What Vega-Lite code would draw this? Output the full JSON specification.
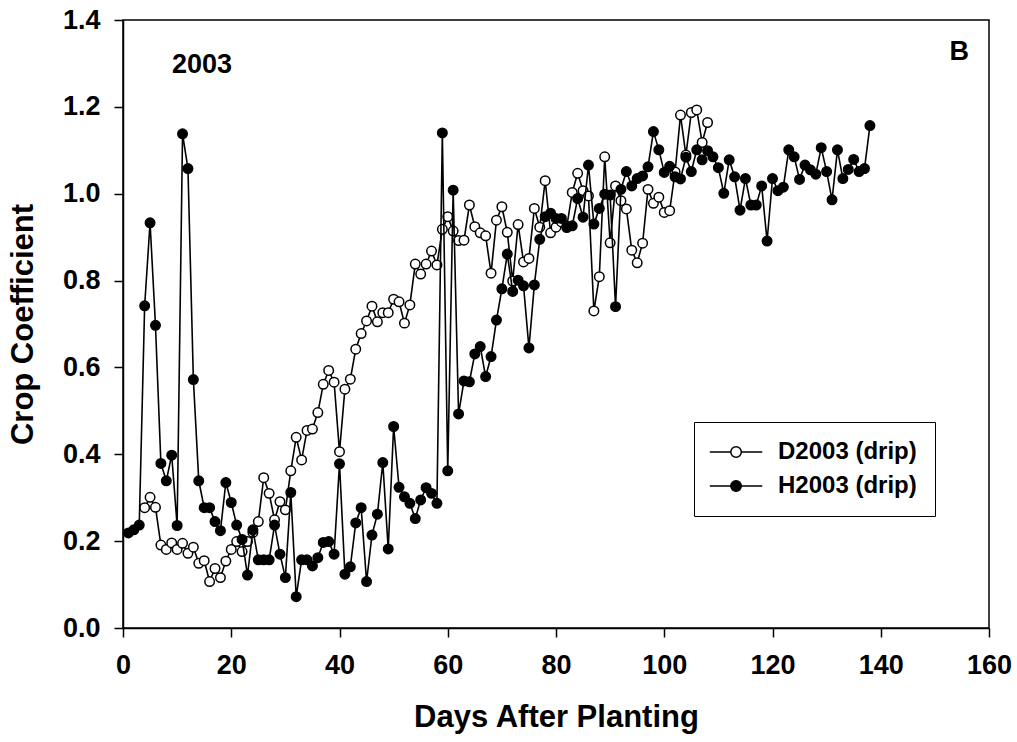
{
  "$schema": "https://vega.github.io/schema/vega-lite/v6.json",
  "width": 866,
  "height": 608,
  "autosize": {"type": "none"},
  "padding": {"left": 123, "top": 20, "right": 28, "bottom": 114},
  "background": "white",
  "config": {
    "view": {"stroke": "black", "strokeWidth": 1.5},
    "font": "Liberation Sans",
    "axis": {
      "grid": false,
      "domainColor": "black",
      "domainWidth": 1.5,
      "tickColor": "black",
      "tickWidth": 1.5,
      "tickSize": 9,
      "labelFont": "Liberation Sans",
      "labelFontSize": 27,
      "labelFontWeight": "bold",
      "labelColor": "black",
      "titleFont": "Liberation Sans",
      "titleFontWeight": "bold",
      "titleColor": "black"
    }
  },
  "datasets": {
    "kc": [
      {"day": 4, "kc": 0.277, "series": "D2003 (drip)"},
      {"day": 5, "kc": 0.301, "series": "D2003 (drip)"},
      {"day": 6, "kc": 0.278, "series": "D2003 (drip)"},
      {"day": 7, "kc": 0.191, "series": "D2003 (drip)"},
      {"day": 8, "kc": 0.181, "series": "D2003 (drip)"},
      {"day": 9, "kc": 0.196, "series": "D2003 (drip)"},
      {"day": 10, "kc": 0.181, "series": "D2003 (drip)"},
      {"day": 11, "kc": 0.195, "series": "D2003 (drip)"},
      {"day": 12, "kc": 0.172, "series": "D2003 (drip)"},
      {"day": 13, "kc": 0.186, "series": "D2003 (drip)"},
      {"day": 14, "kc": 0.149, "series": "D2003 (drip)"},
      {"day": 15, "kc": 0.155, "series": "D2003 (drip)"},
      {"day": 16, "kc": 0.107, "series": "D2003 (drip)"},
      {"day": 17, "kc": 0.137, "series": "D2003 (drip)"},
      {"day": 18, "kc": 0.116, "series": "D2003 (drip)"},
      {"day": 19, "kc": 0.154, "series": "D2003 (drip)"},
      {"day": 20, "kc": 0.181, "series": "D2003 (drip)"},
      {"day": 21, "kc": 0.199, "series": "D2003 (drip)"},
      {"day": 22, "kc": 0.176, "series": "D2003 (drip)"},
      {"day": 23, "kc": 0.199, "series": "D2003 (drip)"},
      {"day": 24, "kc": 0.22, "series": "D2003 (drip)"},
      {"day": 25, "kc": 0.245, "series": "D2003 (drip)"},
      {"day": 26, "kc": 0.346, "series": "D2003 (drip)"},
      {"day": 27, "kc": 0.31, "series": "D2003 (drip)"},
      {"day": 28, "kc": 0.249, "series": "D2003 (drip)"},
      {"day": 29, "kc": 0.291, "series": "D2003 (drip)"},
      {"day": 30, "kc": 0.272, "series": "D2003 (drip)"},
      {"day": 31, "kc": 0.362, "series": "D2003 (drip)"},
      {"day": 32, "kc": 0.439, "series": "D2003 (drip)"},
      {"day": 33, "kc": 0.387, "series": "D2003 (drip)"},
      {"day": 34, "kc": 0.455, "series": "D2003 (drip)"},
      {"day": 35, "kc": 0.458, "series": "D2003 (drip)"},
      {"day": 36, "kc": 0.496, "series": "D2003 (drip)"},
      {"day": 37, "kc": 0.561, "series": "D2003 (drip)"},
      {"day": 38, "kc": 0.593, "series": "D2003 (drip)"},
      {"day": 39, "kc": 0.566, "series": "D2003 (drip)"},
      {"day": 40, "kc": 0.406, "series": "D2003 (drip)"},
      {"day": 41, "kc": 0.55, "series": "D2003 (drip)"},
      {"day": 42, "kc": 0.573, "series": "D2003 (drip)"},
      {"day": 43, "kc": 0.642, "series": "D2003 (drip)"},
      {"day": 44, "kc": 0.678, "series": "D2003 (drip)"},
      {"day": 45, "kc": 0.707, "series": "D2003 (drip)"},
      {"day": 46, "kc": 0.741, "series": "D2003 (drip)"},
      {"day": 47, "kc": 0.705, "series": "D2003 (drip)"},
      {"day": 48, "kc": 0.726, "series": "D2003 (drip)"},
      {"day": 49, "kc": 0.726, "series": "D2003 (drip)"},
      {"day": 50, "kc": 0.757, "series": "D2003 (drip)"},
      {"day": 51, "kc": 0.751, "series": "D2003 (drip)"},
      {"day": 52, "kc": 0.702, "series": "D2003 (drip)"},
      {"day": 53, "kc": 0.744, "series": "D2003 (drip)"},
      {"day": 54, "kc": 0.838, "series": "D2003 (drip)"},
      {"day": 55, "kc": 0.815, "series": "D2003 (drip)"},
      {"day": 56, "kc": 0.838, "series": "D2003 (drip)"},
      {"day": 57, "kc": 0.868, "series": "D2003 (drip)"},
      {"day": 58, "kc": 0.836, "series": "D2003 (drip)"},
      {"day": 59, "kc": 0.918, "series": "D2003 (drip)"},
      {"day": 60, "kc": 0.947, "series": "D2003 (drip)"},
      {"day": 61, "kc": 0.914, "series": "D2003 (drip)"},
      {"day": 62, "kc": 0.892, "series": "D2003 (drip)"},
      {"day": 63, "kc": 0.893, "series": "D2003 (drip)"},
      {"day": 64, "kc": 0.974, "series": "D2003 (drip)"},
      {"day": 65, "kc": 0.924, "series": "D2003 (drip)"},
      {"day": 66, "kc": 0.91, "series": "D2003 (drip)"},
      {"day": 67, "kc": 0.903, "series": "D2003 (drip)"},
      {"day": 68, "kc": 0.817, "series": "D2003 (drip)"},
      {"day": 69, "kc": 0.939, "series": "D2003 (drip)"},
      {"day": 70, "kc": 0.97, "series": "D2003 (drip)"},
      {"day": 71, "kc": 0.911, "series": "D2003 (drip)"},
      {"day": 72, "kc": 0.799, "series": "D2003 (drip)"},
      {"day": 73, "kc": 0.929, "series": "D2003 (drip)"},
      {"day": 74, "kc": 0.843, "series": "D2003 (drip)"},
      {"day": 75, "kc": 0.851, "series": "D2003 (drip)"},
      {"day": 76, "kc": 0.966, "series": "D2003 (drip)"},
      {"day": 77, "kc": 0.923, "series": "D2003 (drip)"},
      {"day": 78, "kc": 1.03, "series": "D2003 (drip)"},
      {"day": 79, "kc": 0.91, "series": "D2003 (drip)"},
      {"day": 80, "kc": 0.923, "series": "D2003 (drip)"},
      {"day": 81, "kc": 0.935, "series": "D2003 (drip)"},
      {"day": 82, "kc": 0.925, "series": "D2003 (drip)"},
      {"day": 83, "kc": 1.003, "series": "D2003 (drip)"},
      {"day": 84, "kc": 1.047, "series": "D2003 (drip)"},
      {"day": 85, "kc": 1.007, "series": "D2003 (drip)"},
      {"day": 86, "kc": 0.995, "series": "D2003 (drip)"},
      {"day": 87, "kc": 0.73, "series": "D2003 (drip)"},
      {"day": 88, "kc": 0.809, "series": "D2003 (drip)"},
      {"day": 89, "kc": 1.085, "series": "D2003 (drip)"},
      {"day": 90, "kc": 0.887, "series": "D2003 (drip)"},
      {"day": 91, "kc": 1.018, "series": "D2003 (drip)"},
      {"day": 92, "kc": 0.984, "series": "D2003 (drip)"},
      {"day": 93, "kc": 0.965, "series": "D2003 (drip)"},
      {"day": 94, "kc": 0.87, "series": "D2003 (drip)"},
      {"day": 95, "kc": 0.841, "series": "D2003 (drip)"},
      {"day": 96, "kc": 0.886, "series": "D2003 (drip)"},
      {"day": 97, "kc": 1.01, "series": "D2003 (drip)"},
      {"day": 98, "kc": 0.978, "series": "D2003 (drip)"},
      {"day": 99, "kc": 0.992, "series": "D2003 (drip)"},
      {"day": 100, "kc": 0.957, "series": "D2003 (drip)"},
      {"day": 101, "kc": 0.961, "series": "D2003 (drip)"},
      {"day": 102, "kc": 1.05, "series": "D2003 (drip)"},
      {"day": 103, "kc": 1.181, "series": "D2003 (drip)"},
      {"day": 104, "kc": 1.089, "series": "D2003 (drip)"},
      {"day": 105, "kc": 1.187, "series": "D2003 (drip)"},
      {"day": 106, "kc": 1.193, "series": "D2003 (drip)"},
      {"day": 107, "kc": 1.118, "series": "D2003 (drip)"},
      {"day": 108, "kc": 1.164, "series": "D2003 (drip)"},
      {"day": 1, "kc": 0.219, "series": "H2003 (drip)"},
      {"day": 2, "kc": 0.226, "series": "H2003 (drip)"},
      {"day": 3, "kc": 0.237, "series": "H2003 (drip)"},
      {"day": 4, "kc": 0.742, "series": "H2003 (drip)"},
      {"day": 5, "kc": 0.933, "series": "H2003 (drip)"},
      {"day": 6, "kc": 0.697, "series": "H2003 (drip)"},
      {"day": 7, "kc": 0.379, "series": "H2003 (drip)"},
      {"day": 8, "kc": 0.339, "series": "H2003 (drip)"},
      {"day": 9, "kc": 0.398, "series": "H2003 (drip)"},
      {"day": 10, "kc": 0.236, "series": "H2003 (drip)"},
      {"day": 11, "kc": 1.138, "series": "H2003 (drip)"},
      {"day": 12, "kc": 1.058, "series": "H2003 (drip)"},
      {"day": 13, "kc": 0.572, "series": "H2003 (drip)"},
      {"day": 14, "kc": 0.339, "series": "H2003 (drip)"},
      {"day": 15, "kc": 0.277, "series": "H2003 (drip)"},
      {"day": 16, "kc": 0.277, "series": "H2003 (drip)"},
      {"day": 17, "kc": 0.245, "series": "H2003 (drip)"},
      {"day": 18, "kc": 0.224, "series": "H2003 (drip)"},
      {"day": 19, "kc": 0.335, "series": "H2003 (drip)"},
      {"day": 20, "kc": 0.289, "series": "H2003 (drip)"},
      {"day": 21, "kc": 0.237, "series": "H2003 (drip)"},
      {"day": 22, "kc": 0.204, "series": "H2003 (drip)"},
      {"day": 23, "kc": 0.122, "series": "H2003 (drip)"},
      {"day": 24, "kc": 0.226, "series": "H2003 (drip)"},
      {"day": 25, "kc": 0.157, "series": "H2003 (drip)"},
      {"day": 26, "kc": 0.157, "series": "H2003 (drip)"},
      {"day": 27, "kc": 0.157, "series": "H2003 (drip)"},
      {"day": 28, "kc": 0.237, "series": "H2003 (drip)"},
      {"day": 29, "kc": 0.17, "series": "H2003 (drip)"},
      {"day": 30, "kc": 0.116, "series": "H2003 (drip)"},
      {"day": 31, "kc": 0.312, "series": "H2003 (drip)"},
      {"day": 32, "kc": 0.072, "series": "H2003 (drip)"},
      {"day": 33, "kc": 0.157, "series": "H2003 (drip)"},
      {"day": 34, "kc": 0.157, "series": "H2003 (drip)"},
      {"day": 35, "kc": 0.143, "series": "H2003 (drip)"},
      {"day": 36, "kc": 0.162, "series": "H2003 (drip)"},
      {"day": 37, "kc": 0.197, "series": "H2003 (drip)"},
      {"day": 38, "kc": 0.199, "series": "H2003 (drip)"},
      {"day": 39, "kc": 0.17, "series": "H2003 (drip)"},
      {"day": 40, "kc": 0.378, "series": "H2003 (drip)"},
      {"day": 41, "kc": 0.124, "series": "H2003 (drip)"},
      {"day": 42, "kc": 0.141, "series": "H2003 (drip)"},
      {"day": 43, "kc": 0.242, "series": "H2003 (drip)"},
      {"day": 44, "kc": 0.277, "series": "H2003 (drip)"},
      {"day": 45, "kc": 0.107, "series": "H2003 (drip)"},
      {"day": 46, "kc": 0.214, "series": "H2003 (drip)"},
      {"day": 47, "kc": 0.262, "series": "H2003 (drip)"},
      {"day": 48, "kc": 0.381, "series": "H2003 (drip)"},
      {"day": 49, "kc": 0.182, "series": "H2003 (drip)"},
      {"day": 50, "kc": 0.464, "series": "H2003 (drip)"},
      {"day": 51, "kc": 0.324, "series": "H2003 (drip)"},
      {"day": 52, "kc": 0.302, "series": "H2003 (drip)"},
      {"day": 53, "kc": 0.287, "series": "H2003 (drip)"},
      {"day": 54, "kc": 0.252, "series": "H2003 (drip)"},
      {"day": 55, "kc": 0.295, "series": "H2003 (drip)"},
      {"day": 56, "kc": 0.323, "series": "H2003 (drip)"},
      {"day": 57, "kc": 0.31, "series": "H2003 (drip)"},
      {"day": 58, "kc": 0.287, "series": "H2003 (drip)"},
      {"day": 59, "kc": 1.14, "series": "H2003 (drip)"},
      {"day": 60, "kc": 0.362, "series": "H2003 (drip)"},
      {"day": 61, "kc": 1.008, "series": "H2003 (drip)"},
      {"day": 62, "kc": 0.493, "series": "H2003 (drip)"},
      {"day": 63, "kc": 0.569, "series": "H2003 (drip)"},
      {"day": 64, "kc": 0.567, "series": "H2003 (drip)"},
      {"day": 65, "kc": 0.631, "series": "H2003 (drip)"},
      {"day": 66, "kc": 0.648, "series": "H2003 (drip)"},
      {"day": 67, "kc": 0.579, "series": "H2003 (drip)"},
      {"day": 68, "kc": 0.625, "series": "H2003 (drip)"},
      {"day": 69, "kc": 0.709, "series": "H2003 (drip)"},
      {"day": 70, "kc": 0.781, "series": "H2003 (drip)"},
      {"day": 71, "kc": 0.861, "series": "H2003 (drip)"},
      {"day": 72, "kc": 0.775, "series": "H2003 (drip)"},
      {"day": 73, "kc": 0.801, "series": "H2003 (drip)"},
      {"day": 74, "kc": 0.788, "series": "H2003 (drip)"},
      {"day": 75, "kc": 0.645, "series": "H2003 (drip)"},
      {"day": 76, "kc": 0.79, "series": "H2003 (drip)"},
      {"day": 77, "kc": 0.895, "series": "H2003 (drip)"},
      {"day": 78, "kc": 0.947, "series": "H2003 (drip)"},
      {"day": 79, "kc": 0.955, "series": "H2003 (drip)"},
      {"day": 80, "kc": 0.943, "series": "H2003 (drip)"},
      {"day": 81, "kc": 0.943, "series": "H2003 (drip)"},
      {"day": 82, "kc": 0.922, "series": "H2003 (drip)"},
      {"day": 83, "kc": 0.926, "series": "H2003 (drip)"},
      {"day": 84, "kc": 0.989, "series": "H2003 (drip)"},
      {"day": 85, "kc": 0.946, "series": "H2003 (drip)"},
      {"day": 86, "kc": 1.066, "series": "H2003 (drip)"},
      {"day": 87, "kc": 0.93, "series": "H2003 (drip)"},
      {"day": 88, "kc": 0.966, "series": "H2003 (drip)"},
      {"day": 89, "kc": 0.999, "series": "H2003 (drip)"},
      {"day": 90, "kc": 0.997, "series": "H2003 (drip)"},
      {"day": 91, "kc": 0.74, "series": "H2003 (drip)"},
      {"day": 92, "kc": 1.01, "series": "H2003 (drip)"},
      {"day": 93, "kc": 1.051, "series": "H2003 (drip)"},
      {"day": 94, "kc": 1.018, "series": "H2003 (drip)"},
      {"day": 95, "kc": 1.035, "series": "H2003 (drip)"},
      {"day": 96, "kc": 1.041, "series": "H2003 (drip)"},
      {"day": 97, "kc": 1.062, "series": "H2003 (drip)"},
      {"day": 98, "kc": 1.143, "series": "H2003 (drip)"},
      {"day": 99, "kc": 1.101, "series": "H2003 (drip)"},
      {"day": 100, "kc": 1.049, "series": "H2003 (drip)"},
      {"day": 101, "kc": 1.063, "series": "H2003 (drip)"},
      {"day": 102, "kc": 1.039, "series": "H2003 (drip)"},
      {"day": 103, "kc": 1.034, "series": "H2003 (drip)"},
      {"day": 104, "kc": 1.084, "series": "H2003 (drip)"},
      {"day": 105, "kc": 1.051, "series": "H2003 (drip)"},
      {"day": 106, "kc": 1.101, "series": "H2003 (drip)"},
      {"day": 107, "kc": 1.078, "series": "H2003 (drip)"},
      {"day": 108, "kc": 1.099, "series": "H2003 (drip)"},
      {"day": 109, "kc": 1.085, "series": "H2003 (drip)"},
      {"day": 110, "kc": 1.06, "series": "H2003 (drip)"},
      {"day": 111, "kc": 1.001, "series": "H2003 (drip)"},
      {"day": 112, "kc": 1.078, "series": "H2003 (drip)"},
      {"day": 113, "kc": 1.039, "series": "H2003 (drip)"},
      {"day": 114, "kc": 0.962, "series": "H2003 (drip)"},
      {"day": 115, "kc": 1.035, "series": "H2003 (drip)"},
      {"day": 116, "kc": 0.974, "series": "H2003 (drip)"},
      {"day": 117, "kc": 0.974, "series": "H2003 (drip)"},
      {"day": 118, "kc": 1.018, "series": "H2003 (drip)"},
      {"day": 119, "kc": 0.891, "series": "H2003 (drip)"},
      {"day": 120, "kc": 1.035, "series": "H2003 (drip)"},
      {"day": 121, "kc": 1.007, "series": "H2003 (drip)"},
      {"day": 122, "kc": 1.015, "series": "H2003 (drip)"},
      {"day": 123, "kc": 1.101, "series": "H2003 (drip)"},
      {"day": 124, "kc": 1.085, "series": "H2003 (drip)"},
      {"day": 125, "kc": 1.033, "series": "H2003 (drip)"},
      {"day": 126, "kc": 1.066, "series": "H2003 (drip)"},
      {"day": 127, "kc": 1.055, "series": "H2003 (drip)"},
      {"day": 128, "kc": 1.045, "series": "H2003 (drip)"},
      {"day": 129, "kc": 1.106, "series": "H2003 (drip)"},
      {"day": 130, "kc": 1.051, "series": "H2003 (drip)"},
      {"day": 131, "kc": 0.986, "series": "H2003 (drip)"},
      {"day": 132, "kc": 1.101, "series": "H2003 (drip)"},
      {"day": 133, "kc": 1.035, "series": "H2003 (drip)"},
      {"day": 134, "kc": 1.056, "series": "H2003 (drip)"},
      {"day": 135, "kc": 1.079, "series": "H2003 (drip)"},
      {"day": 136, "kc": 1.051, "series": "H2003 (drip)"},
      {"day": 137, "kc": 1.058, "series": "H2003 (drip)"},
      {"day": 138, "kc": 1.157, "series": "H2003 (drip)"}
    ],
    "notes": [
      {"day": 14.6, "kc": 1.296, "label": "2003"},
      {"day": 154.5, "kc": 1.326, "label": "B"}
    ]
  },
  "data": {"name": "kc"},
  "encoding": {
    "x": {
      "field": "day", "type": "quantitative",
      "scale": {"domain": [0, 160], "nice": false, "zero": false},
      "axis": {"values": [0, 20, 40, 60, 80, 100, 120, 140, 160], "title": "Days After Planting", "titleFontSize": 31, "labelPadding": 15, "titlePadding": 24, "labelFlush": false}
    },
    "y": {
      "field": "kc", "type": "quantitative",
      "scale": {"domain": [0, 1.4], "nice": false},
      "axis": {"values": [0, 0.2, 0.4, 0.6, 0.8, 1.0, 1.2, 1.4], "format": ".1f", "title": "Crop Coefficient", "titleFontSize": 31, "labelPadding": 14, "titlePadding": 23, "labelFlush": false}
    }
  },
  "layer": [
    {
      "transform": [{"filter": "datum.series === 'D2003 (drip)'"}],
      "mark": {"type": "line", "color": "black", "strokeWidth": 1.6}
    },
    {
      "transform": [{"filter": "datum.series === 'D2003 (drip)'"}],
      "mark": {"type": "point", "shape": "circle", "filled": true, "size": 90, "stroke": "black", "strokeWidth": 1.5, "opacity": 1},
      "encoding": {
        "fill": {
          "field": "series", "type": "nominal",
          "scale": {"domain": ["D2003 (drip)", "H2003 (drip)"], "range": ["white", "black"]},
          "legend": {
            "title": null,
            "orient": "none",
            "legendX": 571,
            "legendY": 402,
            "padding": 18,
            "strokeColor": "black",
            "fillColor": "white",
            "symbolType": "M-2.7,0L1.3,0M3.3,0L7.3,0M3.3,0A1,1,0,1,1,1.3,0A1,1,0,1,1,3.3,0Z",
            "symbolSize": 110,
            "symbolStrokeColor": "black",
            "symbolStrokeWidth": 1.5,
            "symbolOpacity": 1,
            "labelFont": "Liberation Sans",
            "labelFontSize": 24,
            "labelFontWeight": "bold",
            "labelColor": "black",
            "labelOffset": 42,
            "rowPadding": 10,
            "labelLimit": 400
          }
        }
      }
    },
    {
      "transform": [{"filter": "datum.series === 'H2003 (drip)'"}],
      "mark": {"type": "line", "color": "black", "strokeWidth": 1.6}
    },
    {
      "transform": [{"filter": "datum.series === 'H2003 (drip)'"}],
      "mark": {"type": "point", "shape": "circle", "filled": true, "size": 90, "stroke": "black", "strokeWidth": 1.5, "opacity": 1},
      "encoding": {
        "fill": {"field": "series", "type": "nominal"}
      }
    },
    {
      "data": {"name": "notes"},
      "mark": {"type": "text", "font": "Liberation Sans", "fontSize": 27, "fontWeight": "bold", "color": "black", "baseline": "middle", "align": "center"},
      "encoding": {
        "text": {"field": "label"}
      }
    }
  ]
}
